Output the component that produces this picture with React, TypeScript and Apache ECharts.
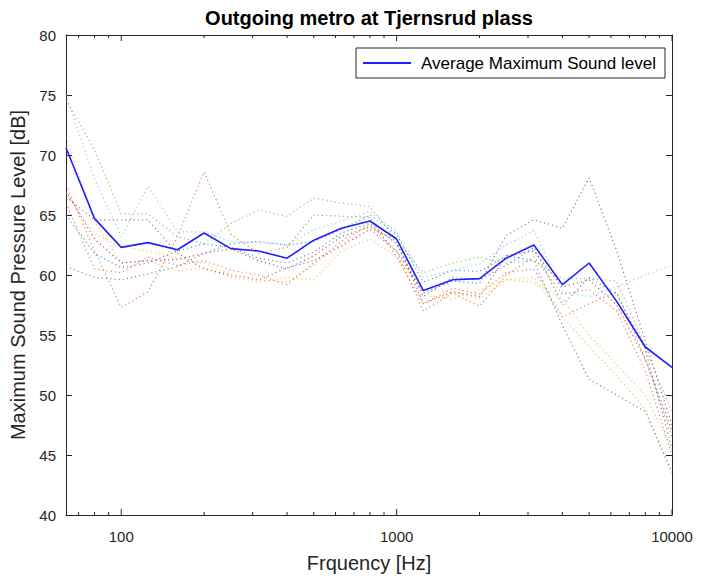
import React, { useEffect, useRef } from "react";
import * as echarts from "echarts";

const freqs = [63, 80, 100, 125, 160, 200, 250, 315, 400, 500, 630, 800, 1000, 1250, 1600, 2000, 2500, 3150, 4000, 5000, 6300, 8000, 10000];

const avgLevel = [70.6, 64.7, 62.3, 62.7, 62.1, 63.5, 62.2, 62.0, 61.4, 62.9, 63.9, 64.5, 63.0, 58.7, 59.6, 59.7, 61.4, 62.5, 59.2, 61.0, 57.8, 54.0, 52.3];

const m1 = [60.7, 59.8, 59.6, 60.1, 60.7, 61.8, 62.6, 62.8, 62.5, 62.8, 63.8, 65.0, 63.4, 59.4, 60.4, 60.3, 61.6, 61.2, 55.8, 51.3, 50.0, 48.6, 43.6];
const m2 = [67.5, 62.0, 57.3, 58.6, 63.2, 68.6, 63.4, 61.8, 62.3, 65.0, 64.9, 64.8, 61.5, 57.6, 58.9, 58.4, 60.2, 60.5, 56.5, 57.6, 58.6, 53.0, 46.5];
const m3 = [71.5, 64.5, 61.0, 61.2, 60.3, 60.6, 59.8, 59.4, 59.8, 59.6, 62.0, 63.0, 61.5, 58.8, 58.6, 58.0, 59.6, 59.8, 56.5, 54.0, 51.6, 48.8, 43.2];
const m4 = [66.5, 64.6, 64.6, 64.6, 61.8, 60.5, 60.0, 59.6, 60.6, 61.2, 62.4, 63.8, 62.0, 58.5, 59.5, 59.3, 63.3, 64.6, 63.9, 68.1, 62.0, 54.5, 47.5];
const m5 = [74.6, 70.4, 65.1, 65.1, 63.2, 62.6, 64.3, 65.4, 64.9, 66.4, 66.0, 65.7, 62.9, 60.2, 61.0, 61.5, 61.0, 61.2, 59.7, 59.7, 59.5, 54.0, 48.5];
const m6 = [75.0, 68.0, 63.2, 67.4, 63.6, 63.6, 62.8, 62.7, 62.5, 63.8, 64.5, 65.3, 63.6, 59.8, 60.4, 60.9, 62.5, 63.7, 58.6, 58.2, 59.0, 60.0, 60.8];
const m7 = [67.0, 63.0, 61.0, 61.2, 61.3, 61.8, 62.2, 61.2, 60.5, 61.6, 63.2, 64.0, 62.8, 57.6, 58.6, 58.2, 61.6, 62.0, 59.0, 59.6, 57.5, 53.0, 47.0];
const m8 = [65.0, 61.8, 60.6, 61.0, 62.0, 62.6, 62.3, 61.4, 61.0, 61.9, 63.5, 64.3, 62.6, 58.2, 59.8, 59.6, 60.8, 62.3, 57.5, 59.8, 58.4, 53.8, 45.5];
const m9 = [66.0, 60.5, 60.2, 61.5, 60.8, 61.2, 60.4, 60.0, 59.2, 61.0, 62.8, 64.2, 62.0, 57.0, 58.5, 57.4, 60.0, 61.5, 58.4, 58.8, 57.0, 52.0, 45.0];
const m10 = [66.8, 63.4, 62.4, 62.0, 61.4, 61.0, 60.0, 59.6, 59.4, 60.8, 62.6, 63.8, 63.0, 58.3, 58.0, 58.8, 59.6, 59.4, 58.0, 55.0, 52.5, 50.0, 45.5];

const measurements = [m1, m2, m3, m4, m5, m6, m7, m8, m9, m10];
const measColors = ["#0072BD", "#D95319", "#EDB120", "#7E2F8E", "#77AC30", "#4DBEEE", "#A2142F", "#0072BD", "#D95319", "#EDB120"];

const majorTicks = [100, 1000, 10000];
const minorTicks = [70, 80, 90, 200, 300, 400, 500, 600, 700, 800, 900, 2000, 3000, 4000, 5000, 6000, 7000, 8000, 9000];

const FONT = "Liberation Sans, Arial, Helvetica, sans-serif";
const AXIS = "#262626";
const AVG_COLOR = "#1f1fff";

export default function App() {
  const ref = useRef<HTMLDivElement>(null);
  useEffect(() => {
    if (!ref.current) return;
    const chart = echarts.init(ref.current, null, { renderer: "svg" });
    const tickData = [
      ...majorTicks.map((f) => [f, 6]),
      ...minorTicks.map((f) => [f, 3]),
    ];
    const series: any[] = measurements.map((m, i) => ({
      type: "line",
      name: "m" + i,
      data: freqs.map((f, j) => [f, m[j]]),
      symbol: "none",
      silent: true,
      lineStyle: { color: measColors[i], width: 1.2, type: [1.2, 3], opacity: 0.7 },
      z: 2,
    }));
    series.push({
      type: "line",
      name: "Average Maximum Sound level",
      data: freqs.map((f, j) => [f, avgLevel[j]]),
      symbol: "none",
      lineStyle: { color: AVG_COLOR, width: 1.6 },
      itemStyle: { color: AVG_COLOR },
      z: 5,
    });
    series.push({
      type: "custom",
      name: "ticks",
      silent: true,
      clip: false,
      data: tickData,
      encode: { x: 0 },
      renderItem: (_p: any, api: any) => {
        const f = api.value(0);
        const len = api.value(1);
        const b = api.coord([f, 40]);
        const t = api.coord([f, 80]);
        return {
          type: "group",
          children: [
            { type: "line", shape: { x1: b[0], y1: b[1], x2: b[0], y2: b[1] - len }, style: { stroke: AXIS, lineWidth: 1 } },
            { type: "line", shape: { x1: t[0], y1: t[1], x2: t[0], y2: t[1] + len }, style: { stroke: AXIS, lineWidth: 1 } },
          ],
        };
      },
      z: 10,
    });

    chart.setOption({
      animation: false,
      textStyle: { fontFamily: FONT },
      graphic: [
        {
          type: "text",
          x: 369,
          y: 18,
          style: {
            text: "Outgoing metro at Tjernsrud plass",
            fontFamily: FONT,
            fontSize: 20,
            fontWeight: "bold",
            fill: "#000",
            textAlign: "center",
            textVerticalAlign: "middle",
          },
        },
      ],
      grid: { left: 66, right: 31, top: 35, bottom: 64, containLabel: false },
      legend: {
        data: [{ name: "Average Maximum Sound level", icon: "rect" }],
        right: 38,
        top: 48,
        padding: [6, 9, 6, 7],
        itemWidth: 48,
        itemHeight: 2,
        itemGap: 6,
        borderColor: AXIS,
        borderWidth: 1,
        borderRadius: 0,
        backgroundColor: "#fff",
        textStyle: { fontFamily: FONT, fontSize: 17, color: "#000", padding: [0, 0, 0, 5], lineHeight: 18 },
      },
      xAxis: [
        {
          type: "log",
          logBase: 10,
          min: 63,
          max: 10000,
          position: "bottom",
          name: "Frquency [Hz]",
          nameLocation: "middle",
          nameGap: 38,
          nameTextStyle: { fontFamily: FONT, fontSize: 20, color: AXIS },
          axisLine: { show: true, onZero: false, lineStyle: { color: AXIS, width: 1 } },
          axisTick: { show: false },
          splitLine: { show: false },
          minorTick: { show: false },
          axisLabel: {
            fontFamily: FONT,
            fontSize: 15,
            color: AXIS,
            margin: 14,
            showMinLabel: true,
            formatter: (v: number) => {
              const r = Math.round(v);
              return majorTicks.indexOf(r) >= 0 ? String(r) : "";
            },
          },
        },
        {
          type: "log",
          logBase: 10,
          min: 63,
          max: 10000,
          position: "top",
          axisLine: { show: true, onZero: false, lineStyle: { color: AXIS, width: 1 } },
          axisTick: { show: false },
          axisLabel: { show: false },
          splitLine: { show: false },
        },
      ],
      yAxis: [
        {
          type: "value",
          min: 40,
          max: 80,
          interval: 5,
          position: "left",
          name: "Maximum Sound Pressure Level [dB]",
          nameLocation: "middle",
          nameGap: 36,
          nameTextStyle: { fontFamily: FONT, fontSize: 20, color: AXIS },
          axisLine: { show: true, onZero: false, lineStyle: { color: AXIS, width: 1 } },
          axisTick: { show: true, inside: true, length: 6, lineStyle: { color: AXIS } },
          axisLabel: { fontFamily: FONT, fontSize: 15, color: AXIS, margin: 10 },
          splitLine: { show: false },
        },
        {
          type: "value",
          min: 40,
          max: 80,
          interval: 5,
          position: "right",
          axisLine: { show: true, onZero: false, lineStyle: { color: AXIS, width: 1 } },
          axisTick: { show: true, inside: true, length: 6, lineStyle: { color: AXIS } },
          axisLabel: { show: false },
          splitLine: { show: false },
        },
      ],
      series,
    });
    return () => chart.dispose();
  }, []);
  return <div ref={ref} style={{ width: 703, height: 579, position: "absolute", left: 0, top: 0, background: "#fff" }} />;
}
